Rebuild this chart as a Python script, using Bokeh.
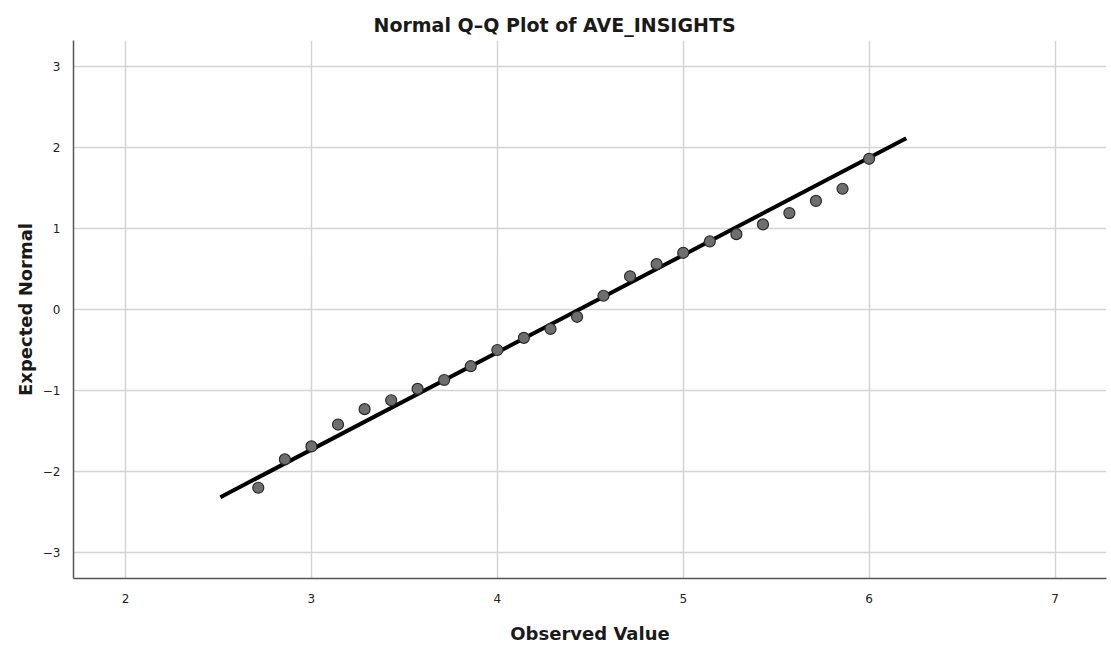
from bokeh.plotting import figure
from bokeh.models import FixedTicker, ColumnDataSource, Range1d
from bokeh.embed import file_html
from bokeh.resources import INLINE

# Observed values (AVE_INSIGHTS) and their expected normal scores
observed = [2.714, 2.857, 3.000, 3.143, 3.286, 3.429, 3.571, 3.714, 3.857, 4.000,
            4.143, 4.286, 4.429, 4.571, 4.714, 4.857, 5.000, 5.143, 5.286, 5.429,
            5.571, 5.714, 5.857, 6.000]
expected = [-2.20, -1.85, -1.69, -1.42, -1.23, -1.12, -0.98, -0.87, -0.70, -0.50,
            -0.35, -0.24, -0.09, 0.17, 0.41, 0.56, 0.70, 0.84, 0.93, 1.05,
            1.19, 1.34, 1.49, 1.86]

# Reference line: z = (x - mean) / sd over the drawn span
line_mean = 4.44
line_sd = 0.833
line_x = [2.51, 6.20]
line_y = [(x - line_mean) / line_sd for x in line_x]

x_ticks = [2, 3, 4, 5, 6, 7]
x_labels = ["2", "3", "4", "5", "6", "7"]
y_ticks = [-3, -2, -1, 0, 1, 2, 3]
y_labels = ["\u22123", "\u22122", "\u22121", "0", "1", "2", "3"]

FONT = "DejaVu Sans"

p = figure(width=1111, height=646, output_backend="svg", toolbar_location=None,
           x_range=Range1d(1.72, 7.277), y_range=Range1d(-3.32, 3.32),
           title="Normal Q\u2013Q Plot of AVE_INSIGHTS",
           min_border_left=73, min_border_right=5, min_border_top=40,
           min_border_bottom=5)
p.outline_line_color = None
p.background_fill_color = "white"
p.border_fill_color = "white"

# title sits centred over the whole page rather than the plot frame
p.title.align = "left"
p.title.offset = 300
p.title.text_font = FONT
p.title.text_font_size = "19px"
p.title.text_font_style = "bold"
p.title.text_color = "#1a1a1a"

for ax, ticks, labels in ((p.xaxis, x_ticks, x_labels), (p.yaxis, y_ticks, y_labels)):
    ax.ticker = FixedTicker(ticks=ticks)
    ax.major_label_overrides = {t: l for t, l in zip(ticks, labels)}
    ax.major_tick_line_color = None
    ax.minor_tick_line_color = None
    ax.axis_line_color = "#555555"
    ax.axis_line_width = 1.5
    ax.major_label_text_font = FONT
    ax.major_label_text_font_size = "12px"
    ax.major_label_text_color = "#222222"
    ax.axis_label_text_font = FONT
    ax.axis_label_text_font_size = "18px"
    ax.axis_label_text_font_style = "bold"
    ax.axis_label_text_color = "#1a1a1a"

p.xaxis.axis_label = "Observed Value"
p.yaxis.axis_label = "Expected Normal"
p.xaxis.major_label_standoff = 9
p.xaxis.axis_label_standoff = 17
p.yaxis.major_label_standoff = 7
p.yaxis.axis_label_standoff = 4

p.xgrid.ticker = FixedTicker(ticks=x_ticks)
p.ygrid.ticker = FixedTicker(ticks=y_ticks)
for g in (p.xgrid, p.ygrid):
    g.grid_line_color = "#d4d4d4"
    g.grid_line_width = 1.5

p.line(line_x, line_y, line_color="black", line_width=4)

src = ColumnDataSource(dict(x=observed, y=expected))
p.scatter("x", "y", source=src, size=11, fill_color="#6e6e6e",
          line_color="#2a2a2a", line_width=1.2)

open("out.html", "w").write(file_html(p, INLINE))
